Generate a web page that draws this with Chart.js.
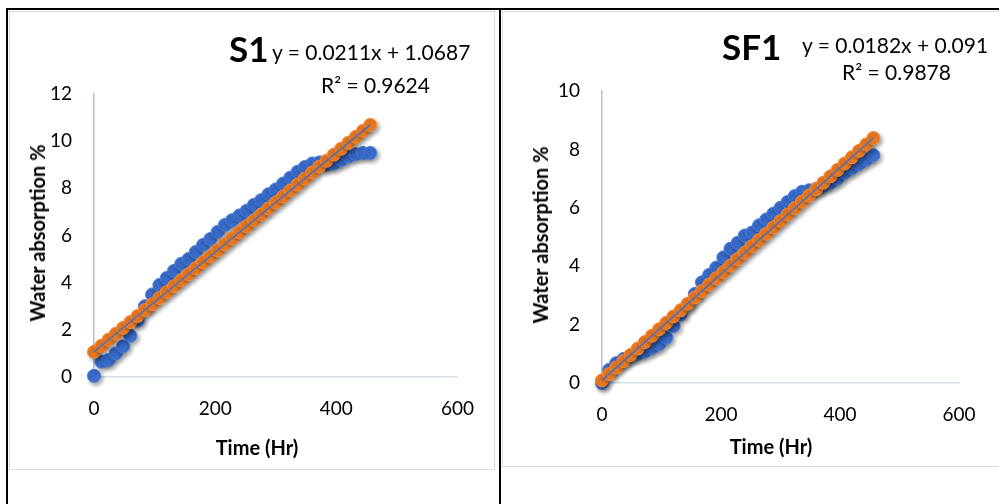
<!DOCTYPE html>
<html>
<head>
<meta charset="utf-8">
<script src="https://cdn.jsdelivr.net/npm/chart.js@4.4.1/dist/chart.umd.min.js"></script>
<style>
  body { margin: 0; width: 999px; height: 504px; position: relative; overflow: hidden; background: #fff; font-family: Lato, "Open Sans", sans-serif; color: #000; }
  .rule { position: absolute; background: #000; }
  .panel { position: absolute; border: 1px solid #d9d9d9; box-sizing: border-box; background: #fff; }
  .panel canvas { position: absolute; left: 0; top: 0; }
  .note { position: absolute; white-space: nowrap; line-height: 1; }
  .name { font-weight: bold; font-size: 35px; }
  .eq { font-size: 21px; }
  .axis-title { position: absolute; white-space: nowrap; line-height: 1; font-weight: bold; font-size: 20px; transform: translate(-50%, -50%); }
  .axis-title.vert { transform: translate(-50%, -50%) rotate(-90deg); }
</style>
</head>
<body>
<div class="rule" style="left:6px;top:8px;width:993px;height:2px"></div>
<div class="rule" style="left:6px;top:8px;width:2px;height:496px"></div>
<div class="rule" style="left:499px;top:8px;width:2px;height:496px"></div>

<div class="panel" style="left:9px;top:11px;width:486px;height:459px">
  <canvas id="chartS1" width="484" height="457"></canvas>
</div>
<div class="panel" style="left:502px;top:11px;width:500px;height:456px">
  <canvas id="chartSF1" width="496" height="454"></canvas>
</div>

<div class="note name" style="left:229px;top:31px">S1</div>
<div class="note eq" style="left:272px;top:41px">y = 0.0211x + 1.0687</div>
<div class="note eq" style="left:321px;top:74px">R² = 0.9624</div>
<div class="axis-title" style="left:257px;top:447px">Time (Hr)</div>
<div class="axis-title vert" style="left:37px;top:233px">Water absorption %</div>

<div class="note name" style="left:722px;top:29px">SF1</div>
<div class="note eq" style="left:802px;top:34px">y = 0.0182x + 0.091</div>
<div class="note eq" style="left:842px;top:61px">R² = 0.9878</div>
<div class="axis-title" style="left:771px;top:446px">Time (Hr)</div>
<div class="axis-title vert" style="left:540px;top:235px">Water absorption %</div>

<script>
// sampling times (hours)
const hours = [0, 12, 24, 36, 48, 60, 72, 84, 96, 108, 120, 132, 144, 156, 168, 180, 192, 204, 216, 228,
  240, 252, 264, 276, 288, 300, 312, 324, 336, 348, 360, 372, 384, 396, 408, 420, 432, 444, 456];

// S1 – measured water absorption %
const s1Measured = [0.05, 0.65, 0.72, 1.0, 1.3, 1.75, 2.4, 3.0, 3.5, 3.9, 4.2, 4.5, 4.8, 5.0, 5.3, 5.6, 5.85, 6.15, 6.45, 6.65,
  6.85, 7.05, 7.3, 7.5, 7.75, 7.95, 8.2, 8.45, 8.7, 8.9, 9.05, 9.1, 9.0, 9.05, 9.2, 9.35, 9.45, 9.5, 9.5];
// S1 – fitted values
const s1Fitted = [1.07, 1.32, 1.58, 1.83, 2.08, 2.33, 2.59, 2.84, 3.09, 3.35, 3.6, 3.85, 4.11, 4.36, 4.61, 4.87, 5.12, 5.37, 5.63, 5.88,
  6.13, 6.39, 6.64, 6.89, 7.15, 7.4, 7.65, 7.91, 8.16, 8.41, 8.67, 8.92, 9.17, 9.43, 9.68, 9.93, 10.18, 10.44, 10.69];
const s1TrendX = [0, 456];
const s1TrendY = [1.07, 10.69];

// SF1 – measured water absorption %
const sf1Measured = [0.0, 0.45, 0.68, 0.82, 0.93, 1.0, 1.08, 1.2, 1.33, 1.55, 1.95, 2.35, 2.7, 3.05, 3.45, 3.7, 3.95, 4.3, 4.6, 4.8,
  5.05, 5.15, 5.4, 5.6, 5.8, 6.0, 6.2, 6.4, 6.55, 6.6, 6.65, 6.75, 6.85, 7.0, 7.2, 7.35, 7.5, 7.65, 7.8];
// SF1 – fitted values
const sf1Fitted = [0.09, 0.31, 0.53, 0.75, 0.96, 1.18, 1.4, 1.62, 1.84, 2.06, 2.28, 2.49, 2.71, 2.93, 3.15, 3.37, 3.59, 3.8, 4.02, 4.24,
  4.46, 4.68, 4.9, 5.11, 5.33, 5.55, 5.77, 5.99, 6.21, 6.42, 6.64, 6.86, 7.08, 7.3, 7.52, 7.73, 7.95, 8.17, 8.39];
const sf1TrendX = [0, 456];
const sf1TrendY = [0.09, 8.39];

const xTicks = [0, 200, 400, 600];
const s1YTicks = [0, 2, 4, 6, 8, 10, 12];
const sf1YTicks = [0, 2, 4, 6, 8, 10];

const BLUE = "#3a6fd0";
const ORANGE = "#f07a1e";
const FONT = "Lato, 'Open Sans', sans-serif";

// Excel-style drop shadow under the markers
const markerShadow = {
  id: "markerShadow",
  beforeDatasetDraw(chart, args) {
    if (!chart.data.datasets[args.index].shadow) return;
    const ctx = chart.ctx;
    ctx.save();
    ctx.shadowColor = "rgba(0,0,0,0.38)";
    ctx.shadowBlur = 4;
    ctx.shadowOffsetX = 2;
    ctx.shadowOffsetY = 2.5;
  },
  afterDatasetDraw(chart, args) {
    if (chart.data.datasets[args.index].shadow) chart.ctx.restore();
  }
};

function pairs(xs, ys) {
  return xs.map((x, i) => ({ x, y: ys[i] }));
}

function makeChart(id, cfg) {
  new Chart(document.getElementById(id), {
    type: "scatter",
    data: {
      datasets: [
        {
          label: "trend",
          data: pairs(cfg.trendX, cfg.trendY),
          showLine: true,
          borderColor: "#4472c4",
          borderWidth: 1.5,
          pointRadius: 0,
          clip: false,
          order: 0
        },
        {
          label: "fitted",
          data: pairs(hours, cfg.fitted),
          backgroundColor: ORANGE,
          borderColor: "#f3893a",
          borderWidth: 1,
          pointRadius: 6.5,
          clip: false,
          shadow: true,
          order: 1
        },
        {
          label: "measured",
          data: pairs(hours, cfg.measured),
          backgroundColor: BLUE,
          borderColor: "#4a7cd8",
          borderWidth: 1,
          pointRadius: 6.5,
          clip: false,
          shadow: true,
          order: 2
        }
      ]
    },
    options: {
      responsive: false,
      animation: false,
      events: [],
      layout: { padding: { left: 0, right: cfg.padRight, top: cfg.padTop, bottom: 0 } },
      plugins: { legend: { display: false }, tooltip: { enabled: false } },
      scales: {
        x: {
          type: "linear",
          min: 0,
          max: 600,
          afterFit: s => { s.height = cfg.xHeight; },
          afterBuildTicks: s => { s.ticks = xTicks.map(v => ({ value: v })); },
          grid: { display: false, drawTicks: false },
          border: { display: true, color: "#d9dfe9", width: 1.5 },
          ticks: { color: "#000", padding: 20, font: { family: FONT, size: 19 } }
        },
        y: {
          type: "linear",
          min: 0,
          max: cfg.yTicks[cfg.yTicks.length - 1],
          afterFit: s => { s.width = cfg.yWidth; },
          afterBuildTicks: s => { s.ticks = cfg.yTicks.map(v => ({ value: v })); },
          grid: { display: false, drawTicks: false },
          border: { display: true, color: "#b3c1da", width: 1.5 },
          ticks: { color: "#000", padding: 22, font: { family: FONT, size: 19 } }
        }
      }
    },
    plugins: [markerShadow]
  });
}

makeChart("chartS1", {
  measured: s1Measured, fitted: s1Fitted, trendX: s1TrendX, trendY: s1TrendY, yTicks: s1YTicks,
  yWidth: 84, xHeight: 92, padRight: 34, padTop: 82
});

makeChart("chartSF1", {
  measured: sf1Measured, fitted: sf1Fitted, trendX: sf1TrendX, trendY: sf1TrendY, yTicks: sf1YTicks,
  yWidth: 99, xHeight: 83, padRight: 40, padTop: 79
});
</script>
</body>
</html>
